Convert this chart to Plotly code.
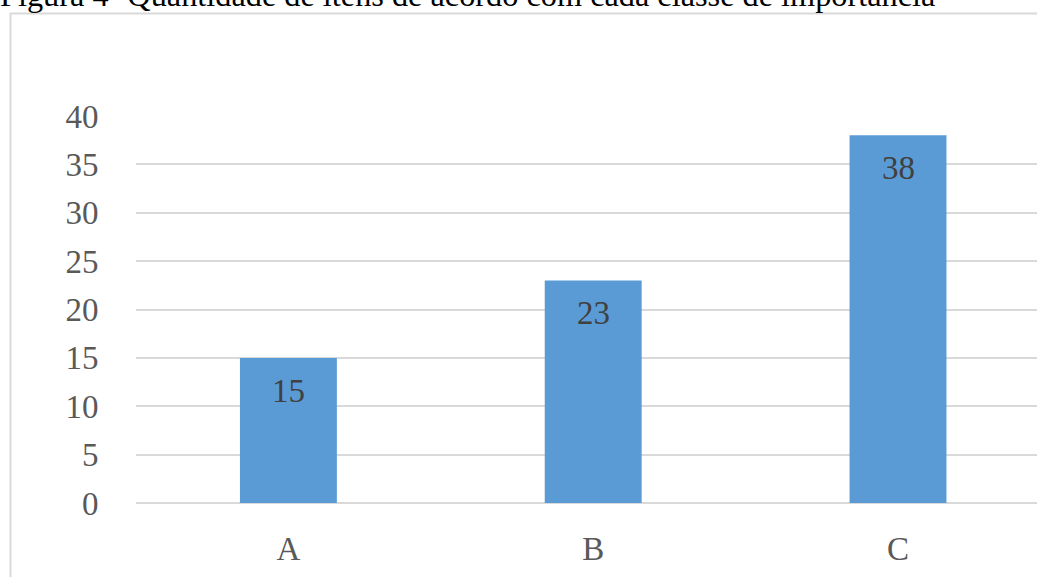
import plotly.graph_objects as go

categories = ["A", "B", "C"]
values = [15, 23, 38]
y_ticks = [0, 5, 10, 15, 20, 25, 30, 35, 40]
title_text = "Figura 4- Quantidade de itens de acordo com cada classe de importância"

W, H = 1037, 577
L, R, T, B = 136, 0, 116, 74
pw = W - L - R
ph = H - T - B

FONT = "Liberation Serif"

fig = go.Figure()
fig.add_trace(go.Bar(
    x=categories, y=values,
    marker=dict(color="#5b9bd5", line=dict(width=0)),
    width=0.318,
    hoverinfo="skip",
))

for c, v in zip(categories, values):
    fig.add_annotation(
        x=c, y=v, xref="x", yref="y",
        text=str(v), showarrow=False,
        yanchor="top", yshift=-13,
        font=dict(family=FONT, size=33, color="#404040"),
    )

# title (clipped at the top in the reference)
fig.add_annotation(
    xref="paper", yref="paper",
    x=(-2 - L) / pw, y=(H - B - 15) / ph,
    xanchor="left", yanchor="bottom",
    text=title_text, showarrow=False,
    font=dict(family=FONT, size=32.3, color="#000000"),
)

# chart frame
fig.add_shape(
    type="rect", xref="paper", yref="paper",
    x0=(10.5 - L) / pw, x1=1.2,
    y0=-0.5, y1=(H - B - 13.5) / ph,
    line=dict(color="#d9d9d9", width=2),
    fillcolor="rgba(0,0,0,0)", layer="below",
)

fig.update_layout(
    width=W, height=H,
    margin=dict(l=L, r=R, t=T, b=B, pad=0),
    paper_bgcolor="white", plot_bgcolor="white",
    showlegend=False,
    font=dict(family=FONT, size=33, color="#595959"),
    xaxis=dict(
        range=[-0.5, 2.456],
        showgrid=False, zeroline=False, showline=False,
        ticks="outside", ticklen=16, tickcolor="rgba(0,0,0,0)",
        tickfont=dict(family=FONT, size=33, color="#595959"),
        fixedrange=True,
    ),
    yaxis=dict(
        range=[0, 40],
        tickvals=y_ticks,
        showgrid=True, gridcolor="#d9d9d9", gridwidth=2,
        zeroline=True, zerolinecolor="#d9d9d9", zerolinewidth=2,
        showline=False,
        ticks="outside", ticklen=30, tickcolor="rgba(0,0,0,0)",
        tickfont=dict(family=FONT, size=33, color="#595959"),
        fixedrange=True,
    ),
)

fig.write_html("out.html", config={"displayModeBar": False})
